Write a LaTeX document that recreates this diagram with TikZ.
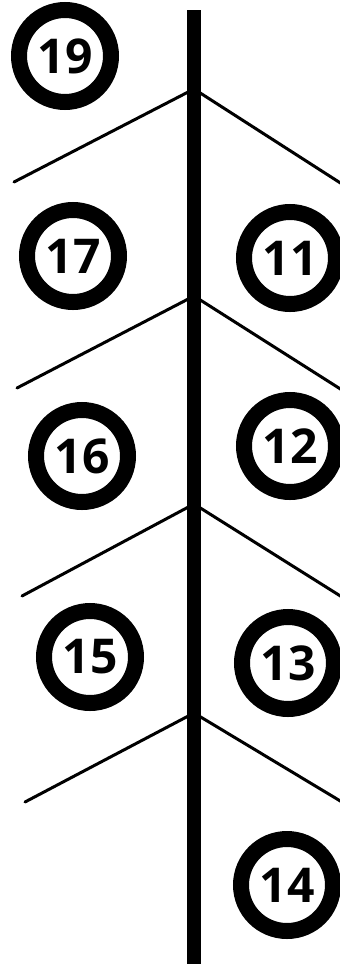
\documentclass[tikz,border=0pt]{standalone}
\usepackage{fontspec}
\setmainfont{Open Sans}
\begin{document}
\begin{tikzpicture}[x=1pt,y=-1pt,
  ring/.style={circle,draw=black,line width=16pt,minimum size=92pt,inner sep=0pt,
    font=\fontsize{48}{48}\selectfont\bfseries},
  stem/.style={line width=14pt,black},
  branch/.style={line width=3pt,black,line cap=round}]
\useasboundingbox[fill=white] (0,0) rectangle (340,964);
% stem
\coordinate (top) at (194,10);
\coordinate (bot) at (194,964);
\draw[stem] (top) -- (bot);
% branches
\coordinate (j1) at (194,89);  \coordinate (l1) at (14,182);  \coordinate (r1) at (342,184);
\coordinate (j2) at (194,296); \coordinate (l2) at (17,388);  \coordinate (r2) at (342,390);
\coordinate (j3) at (194,504); \coordinate (l3) at (22,596);  \coordinate (r3) at (342,597);
\coordinate (j4) at (194,713); \coordinate (l4) at (25,802);  \coordinate (r4) at (342,802);
\foreach \i in {1,2,3,4}{\draw[branch] (l\i) -- (j\i) -- (r\i);}
% circles
\node[ring] (n19) at (65,56) {19};
\node[ring] (n17) at (73,256) {17};
\node[ring] (n11) at (290,258) {11};
\node[ring] (n16) at (82,456) {16};
\node[ring] (n12) at (290,446) {12};
\node[ring] (n15) at (90,657) {15};
\node[ring] (n13) at (288,663) {13};
\node[ring] (n14) at (287,885) {14};
\end{tikzpicture}
\end{document}
